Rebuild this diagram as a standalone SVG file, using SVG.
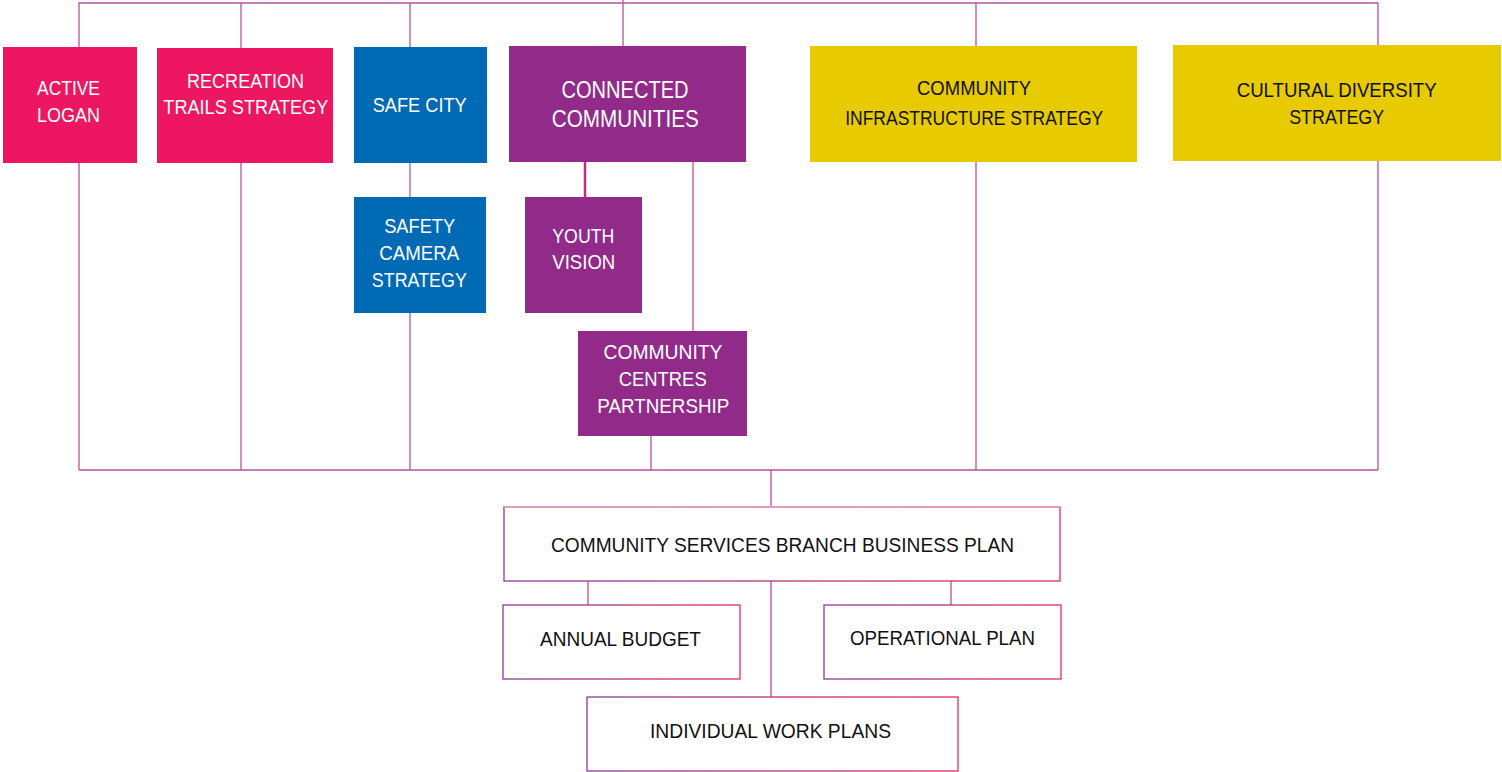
<svg xmlns="http://www.w3.org/2000/svg" width="1502" height="772" viewBox="0 0 1502 772">
<defs>
<linearGradient id="bord" x1="0" y1="0" x2="1" y2="0">
<stop offset="0" stop-color="#8A3A98"/>
<stop offset="1" stop-color="#E52A62"/>
</linearGradient>
<style>
.c{stroke:#BA519D;stroke-width:1.3;fill:none}
.cy{stroke:#C62A85;stroke-width:2.5;fill:none}
.pk{fill:#ED1660}
.bl{fill:#006AB5}
.pu{fill:#922A8A}
.ye{fill:#E8CA00}
.wb{fill:#FFFFFF;stroke:url(#bord);stroke-width:1.3}
.tp{stroke:#EBA6CC;stroke-width:1.3}
text{font-family:"Liberation Sans",Arial,sans-serif;font-size:21px;text-anchor:middle}
.w{fill:#FFFFFF}
.k{fill:#111111}
</style>
</defs>
<g id="connectors">
<polyline class="c" points="79,470 79,3 1378,3 1378,470"/>
<line class="c" x1="241" y1="3" x2="241" y2="470"/>
<line class="c" x1="410" y1="3" x2="410" y2="470"/>
<line class="c" x1="623" y1="0" x2="623" y2="46"/>
<line class="c" x1="976" y1="3" x2="976" y2="470"/>
<line class="cy" x1="585" y1="162" x2="585" y2="197"/>
<line class="c" x1="693" y1="162" x2="693" y2="331"/>
<line class="c" x1="651" y1="436" x2="651" y2="470"/>
<line class="c" x1="79" y1="470" x2="1378" y2="470"/>
<line class="c" x1="771" y1="470" x2="771" y2="507"/>
<line class="c" x1="588" y1="581" x2="588" y2="605"/>
<line class="c" x1="951" y1="581" x2="951" y2="605"/>
<line class="c" x1="771" y1="581" x2="771" y2="697"/>
</g>
<g id="active-logan">
<rect class="pk" x="3" y="47" width="134" height="116"/>
<text class="w" x="68.5" y="95" textLength="63" lengthAdjust="spacingAndGlyphs">ACTIVE</text>
<text class="w" x="68.5" y="122" textLength="63" lengthAdjust="spacingAndGlyphs">LOGAN</text>
</g>
<g id="recreation-trails">
<rect class="pk" x="157" y="48" width="176" height="115"/>
<text class="w" x="245.5" y="87.5" textLength="117" lengthAdjust="spacingAndGlyphs">RECREATION</text>
<text class="w" x="245.8" y="114" textLength="165" lengthAdjust="spacingAndGlyphs">TRAILS STRATEGY</text>
</g>
<g id="safe-city">
<rect class="bl" x="354" y="47" width="133" height="116"/>
<text class="w" x="419.7" y="112" textLength="94" lengthAdjust="spacingAndGlyphs">SAFE CITY</text>
</g>
<g id="safety-camera">
<rect class="bl" x="354" y="197" width="132" height="116"/>
<text class="w" x="419.7" y="233" textLength="71" lengthAdjust="spacingAndGlyphs">SAFETY</text>
<text class="w" x="419.3" y="260" textLength="80" lengthAdjust="spacingAndGlyphs">CAMERA</text>
<text class="w" x="419.3" y="287" textLength="95" lengthAdjust="spacingAndGlyphs">STRATEGY</text>
</g>
<g id="connected-communities">
<rect class="pu" x="509" y="46" width="237" height="116"/>
<text class="w" x="625" y="98" style="font-size:23px" textLength="127" lengthAdjust="spacingAndGlyphs">CONNECTED</text>
<text class="w" x="625.3" y="127" style="font-size:23px" textLength="147" lengthAdjust="spacingAndGlyphs">COMMUNITIES</text>
</g>
<g id="youth-vision">
<rect class="pu" x="525" y="197" width="117" height="116"/>
<text class="w" x="583.3" y="243" textLength="62" lengthAdjust="spacingAndGlyphs">YOUTH</text>
<text class="w" x="583.8" y="269" textLength="63" lengthAdjust="spacingAndGlyphs">VISION</text>
</g>
<g id="community-centres">
<rect class="pu" x="578" y="331" width="169" height="105"/>
<text class="w" x="663" y="359" textLength="119" lengthAdjust="spacingAndGlyphs">COMMUNITY</text>
<text class="w" x="662.7" y="386" textLength="88" lengthAdjust="spacingAndGlyphs">CENTRES</text>
<text class="w" x="663.3" y="413" textLength="132" lengthAdjust="spacingAndGlyphs">PARTNERSHIP</text>
</g>
<g id="community-infrastructure">
<rect class="ye" x="810" y="46" width="327" height="116"/>
<text class="k" x="974" y="95" textLength="114" lengthAdjust="spacingAndGlyphs">COMMUNITY</text>
<text class="k" x="974.2" y="125" textLength="258" lengthAdjust="spacingAndGlyphs">INFRASTRUCTURE STRATEGY</text>
</g>
<g id="cultural-diversity">
<rect class="ye" x="1173" y="45" width="328" height="116"/>
<text class="k" x="1336.7" y="97" textLength="200" lengthAdjust="spacingAndGlyphs">CULTURAL DIVERSITY</text>
<text class="k" x="1336.7" y="124" textLength="95" lengthAdjust="spacingAndGlyphs">STRATEGY</text>
</g>
<g id="business-plan">
<rect class="wb" x="504" y="507" width="556" height="74"/>
<line class="tp" x1="504" y1="507" x2="1060" y2="507"/>
<text class="k" x="782.5" y="552" textLength="463" lengthAdjust="spacingAndGlyphs">COMMUNITY SERVICES BRANCH BUSINESS PLAN</text>
</g>
<g id="annual-budget">
<rect class="wb" x="503" y="605" width="237" height="74"/>
<text class="k" x="620.5" y="646" textLength="161" lengthAdjust="spacingAndGlyphs">ANNUAL BUDGET</text>
</g>
<g id="operational-plan">
<rect class="wb" x="824" y="605" width="237" height="74"/>
<text class="k" x="942.5" y="645" textLength="185" lengthAdjust="spacingAndGlyphs">OPERATIONAL PLAN</text>
</g>
<g id="individual-work-plans">
<rect class="wb" x="587" y="697" width="371" height="74"/>
<text class="k" x="770.5" y="738" textLength="241" lengthAdjust="spacingAndGlyphs">INDIVIDUAL WORK PLANS</text>
</g>
</svg>
